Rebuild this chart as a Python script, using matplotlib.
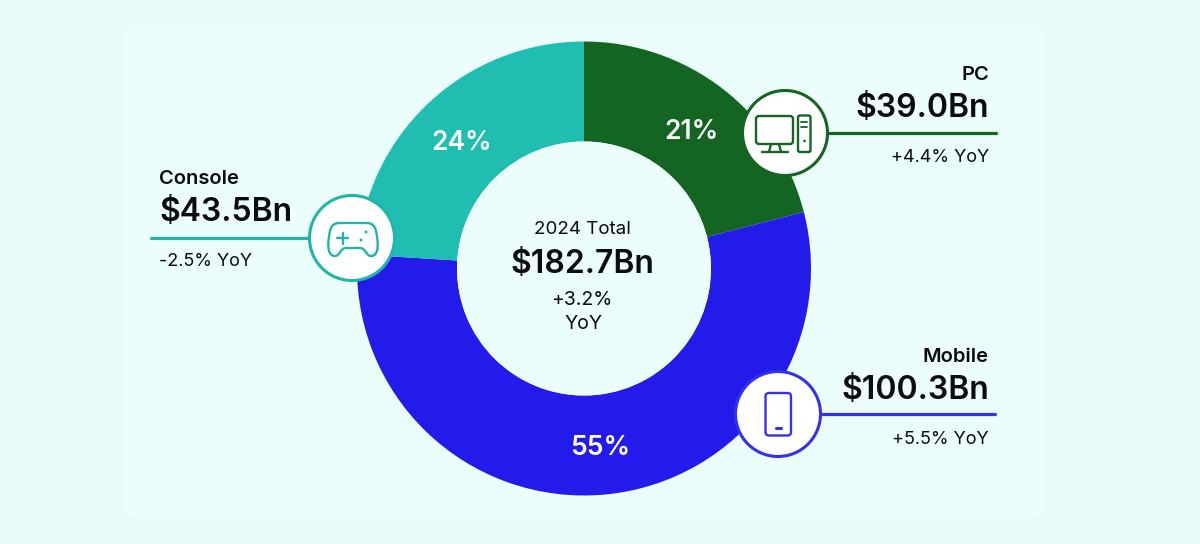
import matplotlib
matplotlib.use("Agg")
import matplotlib.pyplot as plt
from matplotlib.patches import Circle, FancyBboxPatch, PathPatch
from matplotlib.path import Path

# Share of the 2024 total by platform, with the revenue figures beside them
segments = ["PC", "Mobile", "Console"]
share_values = [21, 55, 24]
amounts = ["$39.0Bn", "$100.3Bn", "$43.5Bn"]
changes = ["+4.4% YoY", "+5.5% YoY", "-2.5% YoY"]
colors = ["#146522", "#221BEA", "#20BDB1"]
callout_colors = ["#146522", "#3330EE", "#20B5AA"]

total_title = "2024 Total"
total_amount = "$182.7Bn"
total_change = ["+3.2%", "YoY"]

INK = "#0B0B10"
FONT = "Inter"
PANEL = "#EBFEFB"

fig = plt.figure(figsize=(12, 5.44), dpi=100, facecolor="#E8FBF9")
ax = fig.add_axes([0, 0, 1, 1])
ax.set_xlim(0, 1200)
ax.set_ylim(544, 0)
ax.axis("off")

ax.add_patch(FancyBboxPatch((125, 23), 920, 495, boxstyle="round,pad=0,rounding_size=14",
                            fc=PANEL, ec="none", zorder=0))

# Donut; the y axis is inverted so the drawing direction flips
ax.pie(share_values, colors=colors, center=(584, 268.5), radius=227, startangle=-90,
       counterclock=True, wedgeprops=dict(width=100, linewidth=0), frame=False)
ax.set_xlim(0, 1200)
ax.set_ylim(544, 0)
ax.set_aspect("auto")

ax.add_patch(Circle((584, 268.5), 127, fc=PANEL, ec="none", zorder=3))

share_pos = [(691, 132), (600, 448), (462, 143)]
for (x, y), v in zip(share_pos, share_values):
    ax.text(x, y, f"{v}%", color="white", fontsize=19, fontweight="semibold", family=FONT,
            ha="center", va="center", zorder=4)

ax.text(582, 230, total_title, fontsize=13.5, color=INK, family=FONT, ha="center", va="center", zorder=4)
ax.text(582, 264, total_amount, fontsize=23, fontweight="semibold", color=INK, family=FONT,
        ha="center", va="center", zorder=4)
ax.text(582, 300, total_change[0], fontsize=14, color=INK, family=FONT, ha="center", va="center", zorder=4)
ax.text(583, 324, total_change[1], fontsize=14, color=INK, family=FONT, ha="center", va="center", zorder=4)

# Callout rule, badge and labels for each platform
layouts = [
    dict(badge=(785, 133), rule=(827, 996), tx=989, ha="right", ys=(75, 109, 158)),
    dict(badge=(778, 414), rule=(820, 995), tx=989, ha="right", ys=(357, 390, 439)),
    dict(badge=(352, 238), rule=(310, 151), tx=159, ha="left", ys=(179, 213, 262)),
]
for name, amount, change, col, lay in zip(segments, amounts, changes, callout_colors, layouts):
    bx, by = lay["badge"]
    ax.plot(lay["rule"], (by, by), color=col, lw=2.3, solid_capstyle="round", zorder=4)
    ax.add_patch(Circle((bx, by), 42.5, fc="white", ec=col, lw=2.2, zorder=5))
    y1, y2, y3 = lay["ys"]
    ax.text(lay["tx"], y1, name, fontsize=14.5, fontweight="semibold", color=INK, family=FONT,
            ha=lay["ha"], va="center", zorder=6)
    ax.text(lay["tx"], y2, amount, fontsize=23, fontweight="semibold", color=INK, family=FONT,
            ha=lay["ha"], va="center", zorder=6)
    ax.text(lay["tx"], y3, change, fontsize=13, color=INK, family=FONT,
            ha=lay["ha"], va="center", zorder=6)


def outline(xy, w, h, r, col, lw=1.7):
    ax.add_patch(FancyBboxPatch((xy[0] + r, xy[1] + r), w - 2 * r, h - 2 * r,
                                boxstyle=f"round,pad={r},rounding_size={r}",
                                fc="none", ec=col, lw=lw, zorder=6))


def stroke(xs, ys, col, lw=1.7):
    ax.plot(xs, ys, color=col, lw=lw, solid_capstyle="round", solid_joinstyle="round", zorder=6)


# Desktop computer icon
pc = callout_colors[0]
outline((756, 116), 37, 28, 3, pc)
stroke([771, 769], [144, 152], pc)
stroke([779, 781], [144, 152], pc)
stroke([762, 788], [152, 152], pc)
outline((798, 115.5), 12.5, 36.5, 2, pc)
stroke([801, 807], [122, 122], pc, 1.3)
stroke([801, 807], [127, 127], pc, 1.3)
ax.add_patch(Circle((804.5, 141), 1.3, fc=pc, ec="none", zorder=6))

# Phone icon
mob = callout_colors[1]
outline((765.5, 393), 25.5, 42.5, 3.5, mob)
stroke([776, 781], [428, 428], mob, 2.2)

# Game controller icon
con = callout_colors[2]
codes = [Path.MOVETO, Path.LINETO,
         Path.CURVE4, Path.CURVE4, Path.CURVE4,
         Path.CURVE4, Path.CURVE4, Path.CURVE4,
         Path.CURVE4, Path.CURVE4, Path.CURVE4,
         Path.LINETO,
         Path.CURVE4, Path.CURVE4, Path.CURVE4,
         Path.CURVE4, Path.CURVE4, Path.CURVE4,
         Path.CURVE4, Path.CURVE4, Path.CURVE4,
         Path.CLOSEPOLY]
verts = [(339, 223), (367, 223),
         (372, 223), (375, 226), (376, 231),
         (378, 240), (380, 256), (371, 256),
         (366, 256), (366, 248), (360, 248),
         (346, 248),
         (340, 248), (340, 256), (335, 256),
         (326, 256), (328, 240), (330, 231),
         (331, 226), (334, 223), (339, 223),
         (339, 223)]
ax.add_patch(PathPatch(Path(verts, codes), fc="none", ec=con, lw=1.7, joinstyle="round", zorder=6))
stroke([337, 348], [238, 238], con, 1.7)
stroke([342.5, 342.5], [232.5, 243.5], con, 1.7)
ax.add_patch(Circle((366, 232), 1.5, fc=con, ec="none", zorder=6))
ax.add_patch(Circle((361, 240), 1.5, fc=con, ec="none", zorder=6))

fig.savefig("out.png", dpi=100, facecolor=fig.get_facecolor())
